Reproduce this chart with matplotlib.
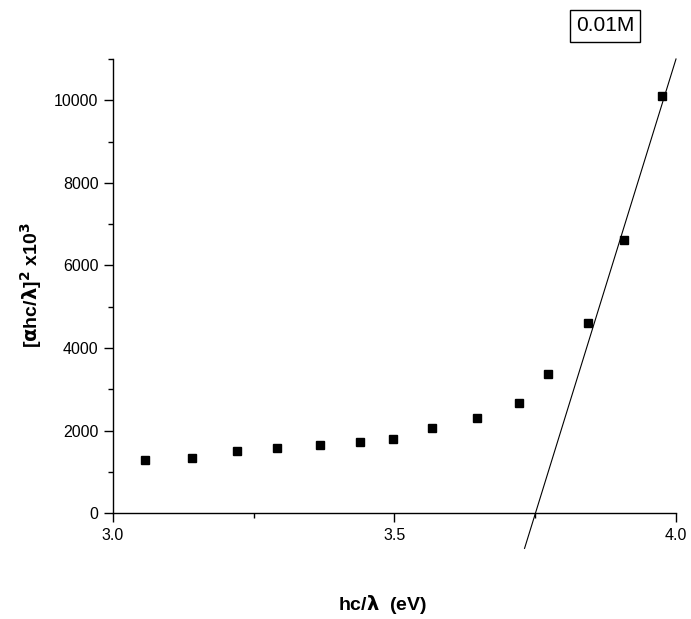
import matplotlib.pyplot as plt
from matplotlib.ticker import MultipleLocator

plt.rcParams['font.family'] = ['Liberation Sans', 'DejaVu Sans']

# data
energy = [3.057, 3.140, 3.220, 3.292, 3.367, 3.438, 3.497, 3.566,
          3.646, 3.721, 3.772, 3.844, 3.908, 3.975]
absorb = [1290, 1345, 1515, 1580, 1660, 1725, 1790, 2070,
          2300, 2670, 3380, 4610, 6610, 10100]

# linear extrapolation line
fit_x = [3.731, 4.0]
fit_y = [-850, 11000]

fig = plt.figure(figsize=(6.91, 6.19), dpi=100)
ax = fig.add_axes([0.1635, 0.1708, 0.8148, 0.7339])

ax.plot(energy, absorb, 's', color='black', markersize=6, linestyle='none')
ax.plot(fit_x, fit_y, color='black', linewidth=0.8, clip_on=False)

ax.set_xlim(3.0, 4.0)
ax.set_ylim(0, 11000)
ax.xaxis.set_major_locator(MultipleLocator(0.5))
ax.xaxis.set_minor_locator(MultipleLocator(0.25))
ax.yaxis.set_major_locator(MultipleLocator(2000))
ax.yaxis.set_minor_locator(MultipleLocator(1000))
ax.set_yticks([0, 2000, 4000, 6000, 8000, 10000])

for s in ['top', 'right']:
    ax.spines[s].set_visible(False)
for s in ['left', 'bottom']:
    ax.spines[s].set_linewidth(1.0)

ax.tick_params(which='major', direction='out', length=6.5, width=1.0,
               labelsize=11.5, pad=4)
ax.tick_params(which='minor', direction='out', length=3.5, width=1.0)

fig.text(0.554, 0.024, r'hc/$\mathbf{\lambda}$  (eV)', ha='center', va='center',
         fontsize=14, fontweight='bold')
fig.text(0.045, 0.54, r'[$\mathbf{\alpha}$hc/$\mathbf{\lambda}$]$^\mathbf{2}$ x10$^\mathbf{3}$',
         rotation=90, ha='center', va='center', fontsize=14, fontweight='bold')

fig.text(0.8755, 0.958, '0.01M', ha='center', va='center', fontsize=15,
         bbox=dict(boxstyle='square,pad=0.3', facecolor='white',
                   edgecolor='black', linewidth=1.0))

fig.savefig('out.png', dpi=100)
